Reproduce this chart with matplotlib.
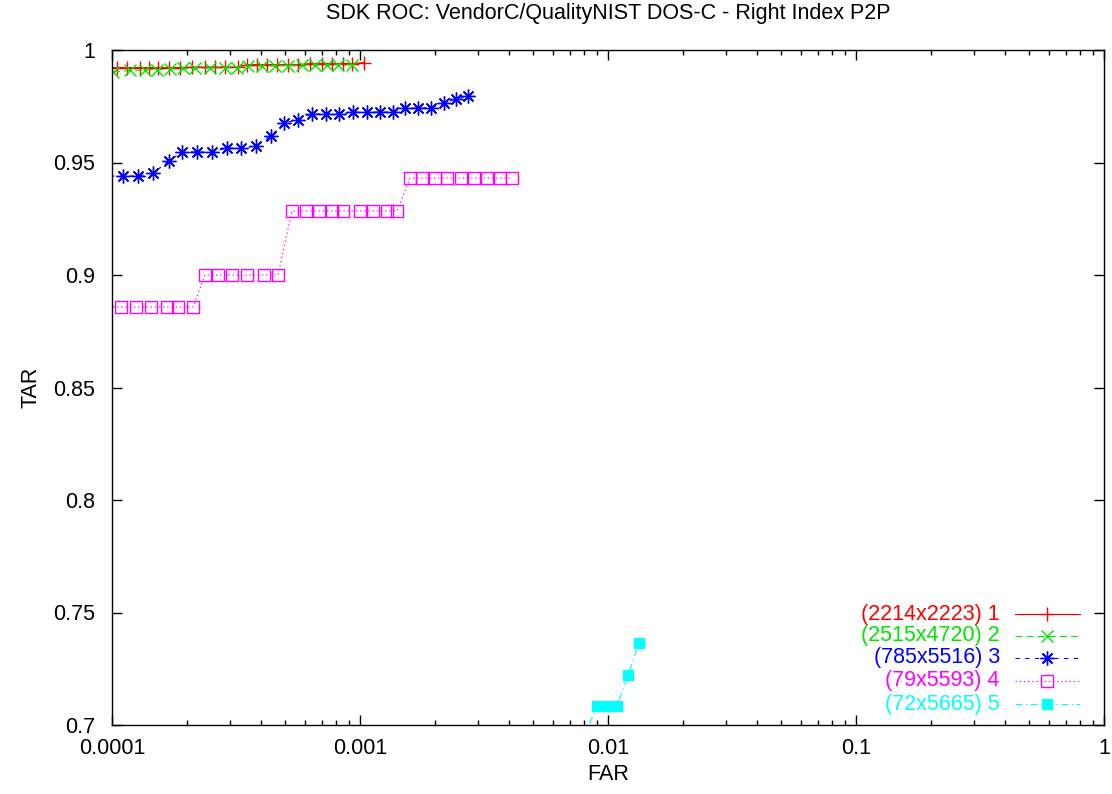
import matplotlib
matplotlib.use("Agg")
import matplotlib.pyplot as plt
from matplotlib.ticker import FixedLocator, LogLocator, NullFormatter

plt.rcParams['font.family'] = ['Liberation Sans', 'DejaVu Sans']
plt.rcParams['lines.scale_dashes'] = False

TAM = 15.5  # tamaño de letra

# datos (FAR, TAR)
far_1 = [9.0e-5, 1.047e-4, 1.149e-4, 1.297e-4, 1.41e-4, 1.533e-4, 1.697e-4, 1.88e-4,
         2.102e-4, 2.371e-4, 2.602e-4, 2.855e-4, 3.222e-4, 3.502e-4, 3.844e-4,
         4.217e-4, 4.627e-4, 5.125e-4, 5.623e-4, 6.286e-4, 7.027e-4, 7.711e-4,
         8.54e-4, 9.284e-4, 1.038e-3]
tar_1 = [0.9922, 0.9922, 0.9922, 0.9922, 0.9922, 0.9922, 0.9922, 0.9922,
         0.9924, 0.9924, 0.9924, 0.9924, 0.9924, 0.9935, 0.9935,
         0.9935, 0.9935, 0.9935, 0.9935, 0.9940, 0.9940, 0.9940,
         0.9940, 0.9940, 0.9944]

far_2 = [1.009e-4, 1.182e-4, 1.359e-4, 1.519e-4, 1.714e-4, 1.934e-4, 2.161e-4,
         2.484e-4, 2.855e-4, 3.192e-4, 3.535e-4, 4.026e-4, 4.543e-4, 5.125e-4,
         5.837e-4, 6.584e-4, 7.362e-4, 8.152e-4, 9.284e-4]
tar_2 = [0.9902, 0.9909, 0.9911, 0.9913, 0.9915, 0.9918, 0.9918,
         0.9920, 0.9920, 0.9922, 0.9929, 0.9929, 0.9931, 0.9931,
         0.9933, 0.9933, 0.9933, 0.9935, 0.9935]

far_3 = [9.0e-5, 1.108e-4, 1.273e-4, 1.463e-4, 1.697e-4, 1.915e-4, 2.201e-4, 2.531e-4,
         2.909e-4, 3.313e-4, 3.808e-4, 4.377e-4, 4.937e-4, 5.623e-4, 6.405e-4,
         7.295e-4, 8.229e-4, 9.37e-4, 1.067e-3, 1.204e-3, 1.359e-3, 1.519e-3,
         1.714e-3, 1.934e-3, 2.182e-3, 2.439e-3, 2.726e-3]
tar_3 = [0.944, 0.944, 0.944, 0.9453, 0.9507, 0.9547, 0.9547, 0.9547,
         0.9564, 0.9564, 0.9573, 0.9618, 0.9676, 0.9689, 0.9716,
         0.9716, 0.9716, 0.9724, 0.9724, 0.9724, 0.9724, 0.9742,
         0.9742, 0.9742, 0.9764, 0.9782, 0.9796]

far_4 = [9.0e-5, 1.087e-4, 1.249e-4, 1.436e-4, 1.666e-4, 1.846e-4, 2.122e-4,
         2.371e-4, 2.676e-4, 3.047e-4, 3.502e-4, 4.102e-4, 4.671e-4,
         5.318e-4, 6.057e-4, 6.834e-4, 7.711e-4, 8.54e-4, 1.0e-3, 1.128e-3,
         1.285e-3, 1.41e-3, 1.591e-3, 1.778e-3, 2.006e-3, 2.243e-3, 2.555e-3,
         2.882e-3, 3.251e-3, 3.668e-3, 4.102e-3]
tar_4 = [0.8858, 0.8858, 0.8858, 0.8858, 0.8858, 0.8858, 0.8858,
         0.900, 0.900, 0.900, 0.900, 0.900, 0.900,
         0.9285, 0.9285, 0.9285, 0.9285, 0.9285, 0.9285, 0.9285,
         0.9285, 0.9285, 0.9431, 0.9431, 0.9431, 0.9431, 0.9431,
         0.9431, 0.9431, 0.9431, 0.9431]

far_5 = [8.0e-3, 9.03e-3, 1.0e-2, 1.087e-2, 1.204e-2, 1.334e-2]
tar_5 = [0.6944, 0.7085, 0.7085, 0.7085, 0.7222, 0.7364]

etiquetas = ["(2214x2223) 1", "(2515x4720) 2", "(785x5516) 3",
             "(79x5593) 4", "(72x5665) 5"]

x_ticks = [1e-4, 1e-3, 1e-2, 1e-1, 1]
x_labels = ["0.0001", "0.001", "0.01", "0.1", "1"]
y_ticks = [0.7, 0.75, 0.8, 0.85, 0.9, 0.95, 1.0]
y_labels = ["0.7", "0.75", "0.8", "0.85", "0.9", "0.95", "1"]

# estilos tipo gnuplot
estilos = [
    dict(color="#ff0000", linestyle="-", marker="+", markersize=10, mew=1.0, mfc="none"),
    dict(color="#00e600", dashes=(5, 3), marker="x", markersize=8, mew=1.0, mfc="none"),
    dict(color="#0000ff", dashes=(3, 4), marker=(8, 2, 0), markersize=10, mew=1.0, mfc="none"),
    dict(color="#ff00ff", dashes=(1, 2), marker="s", markersize=8, mew=1.0, mfc="none"),
    dict(color="#00ffff", dashes=(5, 2.5, 1, 2.5), marker="s", markersize=7, mew=1.0),
]
series = [(far_1, tar_1), (far_2, tar_2), (far_3, tar_3), (far_4, tar_4), (far_5, tar_5)]

fig = plt.figure(figsize=(11.12, 7.94), dpi=100)
ax = fig.add_axes([112 / 1112, 1 - 725 / 794, 992 / 1112, 675 / 794])

for (fx, ty), st in zip(series, estilos):
    ax.plot(fx, ty, linewidth=0.8, **st)

ax.set_xscale("log")
ax.set_xlim(1e-4, 1)
ax.set_ylim(0.7, 1.0)
ax.set_xticks(x_ticks)
ax.set_xticklabels(x_labels)
ax.xaxis.set_minor_locator(LogLocator(base=10, subs=range(2, 10)))
ax.xaxis.set_minor_formatter(NullFormatter())
ax.set_yticks(y_ticks)
ax.set_yticklabels(y_labels)
ax.yaxis.set_minor_locator(FixedLocator([]))

ax.tick_params(which="both", direction="in", top=True, right=True, labelsize=TAM)
ax.tick_params(which="major", length=7, width=1.0)
ax.tick_params(which="minor", length=3.5, width=1.0)
ax.tick_params(axis="y", pad=12)
ax.tick_params(axis="x", pad=9)
for s in ax.spines.values():
    s.set_linewidth(1.0)

ax.set_xlabel("FAR", fontsize=TAM)
ax.set_ylabel("TAR", fontsize=TAM)
ax.xaxis.set_label_coords(0.5, -0.058)
ax.yaxis.set_label_coords(-0.071, 0.5)

fig.text(0.5 * (112 + 1104) / 1112, 1 - 13 / 794, "SDK ROC: VendorC/QualityNIST DOS-C - Right Index P2P",
         ha="center", va="center", fontsize=TAM)

# leyenda a mano, como en gnuplot (texto alineado a la derecha, muestra despues)
filas_y = [0.1644, 0.1319, 0.0993, 0.0652, 0.0311]
for etiqueta, st, yy in zip(etiquetas, estilos, filas_y):
    ax.text(0.895, yy, etiqueta, transform=ax.transAxes, ha="right", va="center",
            fontsize=TAM, color=st["color"])
    linea = {k: v for k, v in st.items() if k not in ("marker", "markersize", "mew", "mfc")}
    ax.plot([0.910, 0.976], [yy, yy], transform=ax.transAxes, linewidth=0.8,
            clip_on=False, **linea)
    ax.plot([0.9425], [yy], transform=ax.transAxes, linestyle="none", clip_on=False,
            color=st["color"], marker=st["marker"], markersize=st["markersize"],
            mew=st["mew"], mfc=st.get("mfc", st["color"]))

fig.savefig("out.png", dpi=100)
